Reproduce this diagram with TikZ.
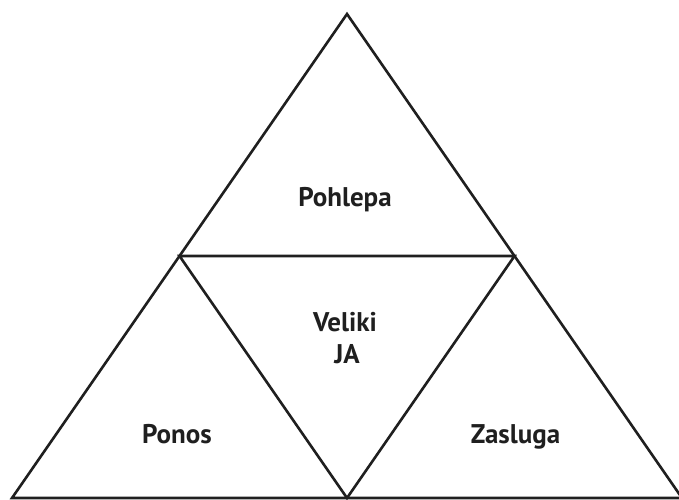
\documentclass[tikz,border=0pt]{standalone}
\usepackage{fontspec}
\setmainfont{PT Sans}
\begin{document}
\begin{tikzpicture}[x=1pt,y=-1pt,
  edge/.style={draw=black!88, line width=2.6pt, line join=miter},
  lbl/.style={font=\fontsize{27}{32}\selectfont\bfseries, text=black!88, inner sep=0pt, anchor=base}]
\useasboundingbox (0,0) rectangle (679,499);
\coordinate (top) at (347,14);
\coordinate (bl) at (12,498);
\coordinate (br) at (682,498);
\coordinate (ml) at (179.5,256);
\coordinate (mr) at (514.5,256);
\coordinate (mb) at (347,498);
\draw[edge] (top) -- (bl) -- (br) -- cycle;
\draw[edge] (ml) -- (mr) -- (mb) -- cycle;
\node[lbl] (pohlepa) at (345,206) {Pohlepa};
\node[lbl] (veliki) at (345,331) {Veliki};
\node[lbl] (ja) at (347,363) {JA};
\node[lbl] (ponos) at (177,443) {Ponos};
\node[lbl] (zasluga) at (515.5,443) {Zasluga};
\end{tikzpicture}
\end{document}
